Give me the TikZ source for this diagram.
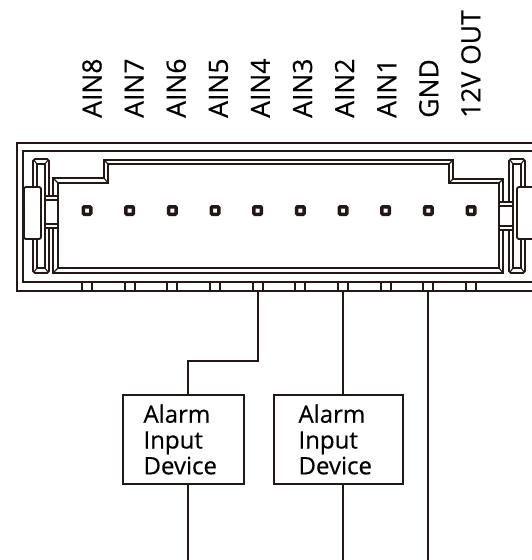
\documentclass[tikz,border=0pt]{standalone}
\usepackage{fontspec}
\setmainfont{Open Sans}
\newfontfamily\lblfont[FakeBold=0.4]{Open Sans}
\definecolor{ink}{HTML}{231815}
\begin{document}
\begin{tikzpicture}[x=1pt,y=-1pt,line join=miter,
  hw/.style={draw=ink,line width=1.8pt},
  thinhw/.style={draw=ink,line width=1.1pt},
  wire/.style={draw=ink,line width=1.8pt},
  pinbox/.style={rectangle,draw=ink,fill=white,line width=3.5pt,minimum size=7.5pt,inner sep=0pt,rounded corners=1pt},
  lbl/.style={rotate=90,anchor=base west,inner sep=0pt,font=\lblfont\fontsize{26.5}{26.5}\selectfont,text=black},
  devbox/.style={draw=ink,line width=1.8pt,align=left,inner sep=0pt,text width=80pt,
    font=\lblfont\fontsize{24}{25.8}\selectfont,text=black}]
\useasboundingbox (0,0) rectangle (532,560);
\clip (0,0) rectangle (532,560);
% outer frame
\draw[hw] (17,143) rectangle (541,291);
\draw[hw] (23,151) rectangle (535,282);
% housing
\draw[hw] (53,273) -- (53,178) -- (104,178) -- (104,160) -- (453,160) -- (453,179) -- (503,179) -- (503,273) -- cycle;
\draw[hw] (58,268) -- (58,183) -- (108,183) -- (108,164) -- (449,164) -- (449,183) -- (499,183) -- (499,268) -- cycle;
\draw[thinhw] (53,273)--(58,268) (53,178)--(58,183) (104,178)--(108,183) (104,160)--(108,164)
  (453,160)--(449,164) (453,179)--(449,183) (503,179)--(499,183) (503,273)--(499,268);
% left latch bar
\draw[hw] (35,159)--(47,159)--(49,161)--(49,271)--(47,273)--(35,273)--(33,271)--(33,161)--cycle;
\draw[hw] (37,164) rectangle (45,268);
\draw[thinhw] (34,160)--(37,164) (48,160)--(45,164) (34,272)--(37,268) (48,272)--(45,268);
% right latch bar
\draw[hw] (511,159)--(523,159)--(525,161)--(525,271)--(523,273)--(511,273)--(509,271)--(509,161)--cycle;
\draw[hw] (513,164) rectangle (521,268);
\draw[thinhw] (510,160)--(513,164) (524,160)--(521,164) (510,272)--(513,268) (524,272)--(521,268);
% bumps
\draw[hw,fill=white,rounded corners=2pt] (24,187) rectangle (41,239);
\draw[hw,fill=white,rounded corners=2pt] (517,187) rectangle (536,239);
% bridges
\draw[hw,fill=white] (45,196) rectangle (58,228);
\draw[hw] (45,200)--(58,200) (45,224)--(58,224);
\draw[hw,fill=white] (499,202) rectangle (513,230);
\draw[hw] (499,206)--(513,206) (499,226)--(513,226);
% pins, tabs, labels
\foreach \t [count=\i] in {AIN8,AIN7,AIN6,AIN5,AIN4,AIN3,AIN2,AIN1,GND,12V OUT} {
  \pgfmathsetmacro\px{87+42.67*(\i-1)}
  \pgfmathsetmacro\lx{101.5+42.1*(\i-1)}
  \node[lbl] (lab\i) at (\lx,118) {\t};
  \node[pinbox] (pin\i) at (\px,210.5) {};
  \coordinate (tab\i) at (\px,291);
  \draw[hw] (\px-5,282) -- (\px-5,291) (\px+5,282) -- (\px+5,291);
}
% devices
\node[devbox,minimum width=121pt,minimum height=89pt] (b1) at (183.5,439.5) {Alarm\\Input\\Device};
\node[devbox,minimum width=129pt,minimum height=89pt] (b2) at (338.5,439.5) {Alarm\\Input\\Device};
% wires
\coordinate (k1) at (188,361);
\coordinate (bot) at (0,565);
\draw[wire] (tab5) |- (k1) -- (k1 |- b1.north);
\draw[wire] (k1 |- b1.south) -- (k1 |- bot);
\draw[wire] (tab7) -- (tab7 |- b2.north);
\draw[wire] (tab7 |- b2.south) -- (tab7 |- bot);
\draw[wire] (tab9) -- (tab9 |- bot);
\end{tikzpicture}
\end{document}
